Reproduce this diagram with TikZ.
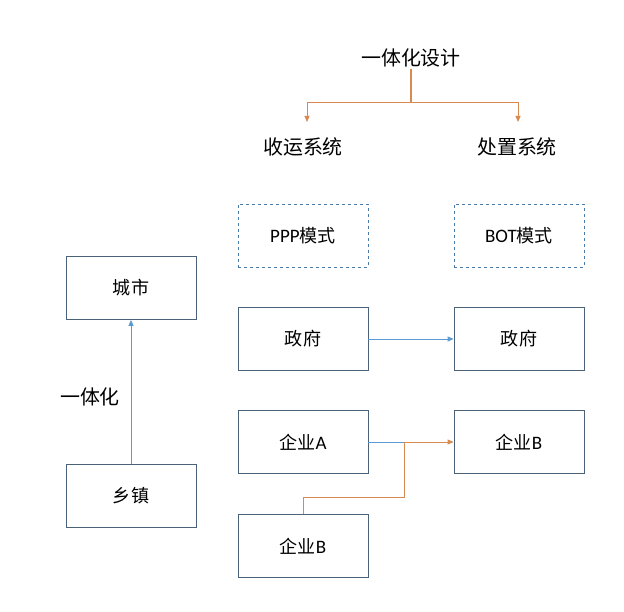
\documentclass[tikz,border=0pt]{standalone}
\usepackage{fontspec}
\setmainfont{Carlito}
\newfontfamily\cjk{Noto Sans CJK SC}[Scale=0.95]
\usetikzlibrary{arrows.meta}
\definecolor{boxline}{HTML}{4A6178}
\definecolor{linkblue}{HTML}{5B9BD5}
\definecolor{linkorange}{HTML}{D98A50}
\tikzset{Box/.style={%
    shape=rectangle,%
    draw=boxline,%
    line width=0.8pt,%
    minimum width=130pt,%
    minimum height=63pt,%
    font=\fontsize{19}{22}\selectfont,%
}}
\tikzset{ModeBox/.style={%
    Box,%
    draw=linkblue!80!black,%
    dashed,%
}}
\tikzset{Plain/.style={%
    font=\fontsize{21}{24}\selectfont,%
    inner sep=2pt,%
}}
\tikzset{BlueEdge/.style={%
    -{Triangle[length=6pt,width=5pt]},%
    draw=linkblue,%
    line width=0.8pt,%
}}
\tikzset{OrangeEdge/.style={%
    -{Triangle[length=6pt,width=5pt]},%
    draw=linkorange,%
    line width=1pt,%
}}
\newcommand{\zh}[1]{{\cjk #1}}

\begin{document}
\begin{tikzpicture}[x=1pt,y=-1pt]
    \useasboundingbox (0,0) rectangle (624,612);
    \node[Plain] (top) at (411,58) {\zh{一体化设计}};
    \node[Plain] (collect) at (303,147) {\zh{收运系统}};
    \node[Plain] (treat) at (517,147) {\zh{处置系统}};
    \coordinate (fork) at (411,103);
    \coordinate (collectIn) at (307,122);
    \coordinate (treatIn) at (518,122);

    \node[ModeBox] (ppp) at (303,236) {PPP\zh{模式}};
    \node[ModeBox] (bot) at (519,236) {BOT\zh{模式}};
    \node[Box] (city) at (131,288) {\zh{城市}};
    \node[Box] (town) at (131,496) {\zh{乡镇}};
    \node[Box] (govL) at (303,339) {\zh{政府}};
    \node[Box] (govR) at (519,339) {\zh{政府}};
    \node[Box] (entA) at (303,442) {\zh{企业}A};
    \node[Box] (entBR) at (519,442) {\zh{企业}B};
    \node[Box] (entB) at (303,546) {\zh{企业}B};
    \node[Plain] (unify) at (90,397) {\zh{一体化}};
    \coordinate (join) at (404,442);

    \draw[linkorange, line width=1.5pt] (top.south) -- (fork);
    \draw[OrangeEdge] (fork) -| (collectIn);
    \draw[OrangeEdge] (fork) -| (treatIn);
    \draw[BlueEdge] (town) -- (city);
    \draw[BlueEdge] (govL) -- (govR);
    \draw[linkblue, line width=0.8pt] (entA) -- (join);
    \draw[OrangeEdge] (join) -- (entBR);
    \draw[linkorange, line width=1pt] (entB.north) -- ++(0,-17) -| (join);
\end{tikzpicture}
\end{document}
